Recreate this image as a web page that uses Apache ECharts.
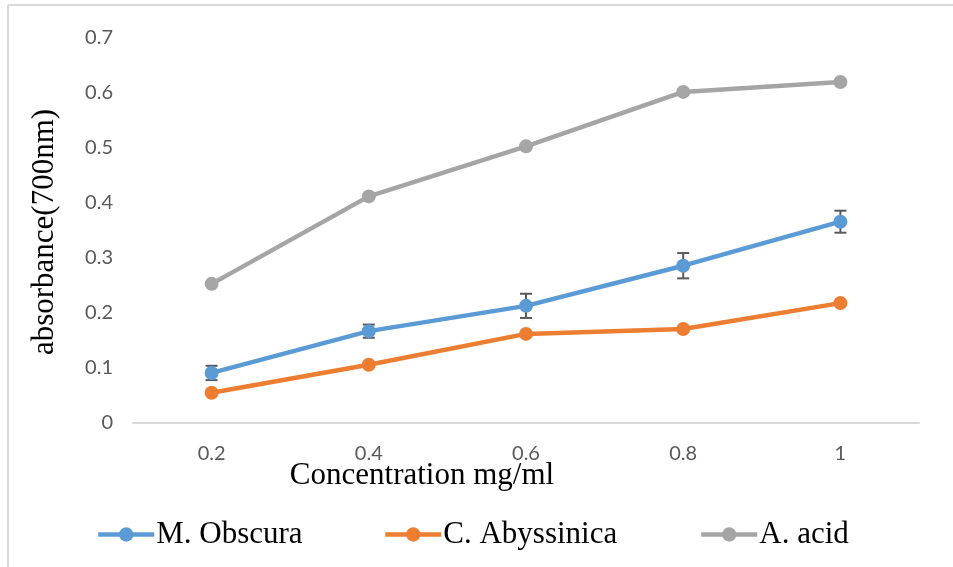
<!DOCTYPE html>
<html>
<head>
<meta charset="utf-8">
<script src="https://cdn.jsdelivr.net/npm/echarts@6/dist/echarts.min.js"></script>
<style>
  html, body { margin: 0; padding: 0; background: #fff; }
  #main { width: 953px; height: 567px; }
</style>
</head>
<body>
<div id="main"></div>
<script>
var concentrations = ['0.2', '0.4', '0.6', '0.8', '1'];
var obscura = [0.091, 0.167, 0.213, 0.286, 0.366];
var obscuraErr = [0.013, 0.012, 0.022, 0.023, 0.02];
var abyssinica = [0.055, 0.106, 0.162, 0.171, 0.218];
var ascorbic = [0.253, 0.412, 0.503, 0.602, 0.62];

var chart = echarts.init(document.getElementById('main'));

var serif = '"Liberation Serif", "Times New Roman", serif';
var sans = 'Lato, "Noto Sans", sans-serif';

// error bars for M. Obscura
var errData = obscura.map(function (v, i) {
  return [i, v - obscuraErr[i], v + obscuraErr[i]];
});

function lineSeries(name, data, color) {
  return {
    name: name,
    type: 'line',
    data: data,
    symbol: 'circle',
    symbolSize: 14,
    lineStyle: { width: 4.5, color: color },
    itemStyle: { color: color },
    z: 3
  };
}

function legendAt(name, left) {
  return {
    data: [name],
    left: left,
    top: 514,
    itemWidth: 56,
    itemHeight: 18,
    itemStyle: { borderWidth: 0 },
    lineStyle: { width: 4.5 },
    textStyle: { fontFamily: serif, fontSize: 31, color: '#000', padding: [0, 0, 0, -3] }
  };
}

var option = {
  animation: false,
  grid: { left: 133, right: 34, top: 38, bottom: 144 },
  legend: [
    legendAt('M. Obscura', 91),
    legendAt('C. Abyssinica', 378),
    legendAt('A. acid', 694)
  ],
  xAxis: {
    type: 'category',
    data: concentrations,
    axisLine: { lineStyle: { color: '#d9d9d9', width: 2 } },
    axisTick: { show: false },
    axisLabel: { color: '#595959', fontFamily: sans, fontSize: 20, margin: 21 }
  },
  yAxis: {
    type: 'value',
    min: 0,
    max: 0.7,
    interval: 0.1,
    axisLine: { show: false },
    axisTick: { show: false },
    splitLine: { show: false },
    axisLabel: {
      color: '#595959', fontFamily: sans, fontSize: 20, margin: 20,
      formatter: function (v) { return String(Math.round(v * 10) / 10); }
    }
  },
  graphic: [
    { type: 'line', shape: { x1: 8, y1: 5, x2: 953, y2: 5 }, style: { stroke: '#d9d9d9', lineWidth: 2 } },
    { type: 'line', shape: { x1: 8, y1: 5, x2: 8, y2: 567 }, style: { stroke: '#d9d9d9', lineWidth: 2 } },
    {
      type: 'text', x: 422, y: 476,
      style: { text: 'Concentration mg/ml', font: '31px ' + serif, fill: '#000', align: 'center', verticalAlign: 'middle' }
    },
    {
      type: 'text', x: 45, y: 232, rotation: Math.PI / 2,
      style: { text: 'absorbance(700nm)', font: '31px ' + serif, fill: '#000', align: 'center', verticalAlign: 'middle' }
    }
  ],
  series: [
    lineSeries('M. Obscura', obscura, '#5b9bd5'),
    lineSeries('C. Abyssinica', abyssinica, '#ed7d31'),
    lineSeries('A. acid', ascorbic, '#a5a5a5'),
    {
      type: 'custom',
      name: 'err',
      data: errData,
      z: 2,
      renderItem: function (params, api) {
        var lo = api.coord([api.value(0), api.value(1)]);
        var hi = api.coord([api.value(0), api.value(2)]);
        var w = 6;
        var st = { stroke: '#595959', lineWidth: 2 };
        return {
          type: 'group',
          children: [
            { type: 'line', shape: { x1: lo[0], y1: lo[1], x2: hi[0], y2: hi[1] }, style: st },
            { type: 'line', shape: { x1: lo[0] - w, y1: lo[1], x2: lo[0] + w, y2: lo[1] }, style: st },
            { type: 'line', shape: { x1: hi[0] - w, y1: hi[1], x2: hi[0] + w, y2: hi[1] }, style: st }
          ]
        };
      }
    }
  ]
};

chart.setOption(option);
</script>
</body>
</html>
